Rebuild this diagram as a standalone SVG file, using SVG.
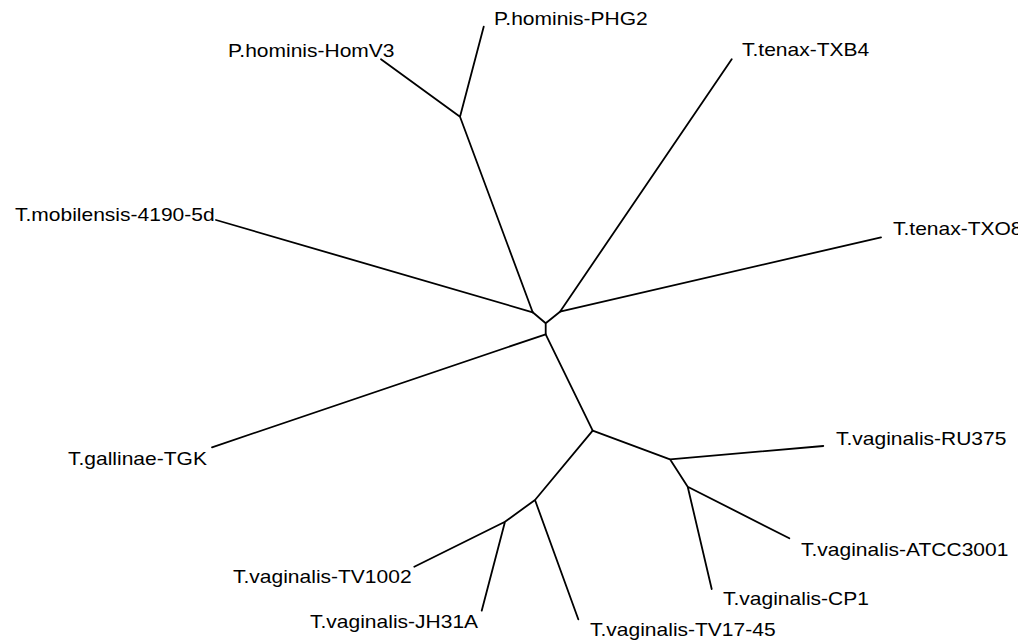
<svg xmlns="http://www.w3.org/2000/svg" width="1018" height="642" viewBox="0 0 1018 642">
<style>
.br{stroke:#000;stroke-width:1.8;fill:none;stroke-linecap:round;stroke-linejoin:round}
.lb{font-family:"Liberation Sans",Arial,sans-serif;font-size:18.6px;fill:#000}
</style>
<rect width="1018" height="642" fill="#fff"/>
<g id="connectors">
<path class="br" d="M532.7,312.3 L545.7,323.3 L560,311.7 M545.7,323.3 L545.7,334.3"/>
<path class="br" d="M532.7,312.3 L460,116.7 M460,116.7 L483.7,26.7 M460,116.7 L381,59.3"/>
<path class="br" d="M532.7,312.3 L216,220"/>
<path class="br" d="M560,311.7 L731.7,59.3 M560,311.7 L881,237.3"/>
<path class="br" d="M545.7,334.3 L212,447.3 M545.7,334.3 L592.7,430.7"/>
<path class="br" d="M592.7,430.7 L670,459.3 L823.3,446 M670,459.3 L687.7,486.7 L789.3,538.3 M687.7,486.7 L711.7,589"/>
<path class="br" d="M592.7,430.7 L535,500 L505,521.7 L414.3,566.7 M505,521.7 L481.7,610.7 M535,500 L578.3,619.3"/>
</g>
<g id="P_hominis_PHG2"><text class="lb" transform="translate(494 25) scale(1.13 1)">P.hominis-PHG2</text></g>
<g id="P_hominis_HomV3"><text class="lb" transform="translate(228 57) scale(1.13 1)">P.hominis-HomV3</text></g>
<g id="T_tenax_TXB4"><text class="lb" transform="translate(742 56) scale(1.13 1)">T.tenax-TXB4</text></g>
<g id="T_tenax_TXO8"><text class="lb" transform="translate(893 235) scale(1.13 1)">T.tenax-TXO8</text></g>
<g id="T_mobilensis_4190_5d"><text class="lb" transform="translate(15 221) scale(1.13 1)">T.mobilensis-4190-5d</text></g>
<g id="T_gallinae_TGK"><text class="lb" transform="translate(68 465) scale(1.13 1)">T.gallinae-TGK</text></g>
<g id="T_vaginalis_RU375"><text class="lb" transform="translate(836 445) scale(1.13 1)">T.vaginalis-RU375</text></g>
<g id="T_vaginalis_ATCC3001"><text class="lb" transform="translate(801 556) scale(1.13 1)">T.vaginalis-ATCC3001</text></g>
<g id="T_vaginalis_CP1"><text class="lb" transform="translate(723 605) scale(1.13 1)">T.vaginalis-CP1</text></g>
<g id="T_vaginalis_TV17_45"><text class="lb" transform="translate(590 636) scale(1.13 1)">T.vaginalis-TV17-45</text></g>
<g id="T_vaginalis_TV1002"><text class="lb" transform="translate(233 583) scale(1.13 1)">T.vaginalis-TV1002</text></g>
<g id="T_vaginalis_JH31A"><text class="lb" transform="translate(310 628) scale(1.13 1)">T.vaginalis-JH31A</text></g>
</svg>
